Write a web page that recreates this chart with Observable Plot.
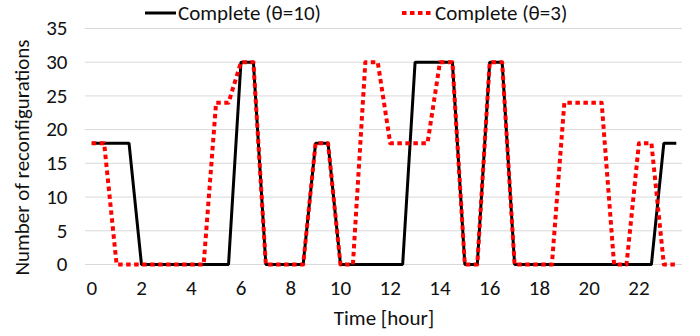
<!DOCTYPE html>
<html>
<head>
<meta charset="utf-8">
<script src="https://cdn.jsdelivr.net/npm/d3@7"></script>
<script src="https://cdn.jsdelivr.net/npm/@observablehq/plot@0.6"></script>
<style>
  html, body { margin: 0; padding: 0; background: #fff; }
  #wrap { position: relative; width: 700px; height: 336px; font-family: Carlito, Lato, sans-serif; }
  #legend { position: absolute; top: 0; left: 0; width: 700px; height: 26px; font-size: 21px; color: #111; }
  .item { position: absolute; top: 0px; display: flex; align-items: center; height: 26px; }
  .item svg { margin-right: 2px; }
</style>
</head>
<body>
<div id="wrap">
  <div id="legend"></div>
  <div id="chart"></div>
</div>
<script>
const hours = [0,0.5,1,1.5,2,2.5,3,3.5,4,4.5,5,5.5,6,6.5,7,7.5,8,8.5,9,9.5,10,10.5,11,11.5,
               12,12.5,13,13.5,14,14.5,15,15.5,16,16.5,17,17.5,18,18.5,19,19.5,20,20.5,21,21.5,22,22.5,23,23.5];
const theta10 = [18,18,18,18,0,0,0,0,0,0,0,0,30,30,0,0,0,0,18,18,0,0,0,0,
                 0,0,30,30,30,30,0,0,30,30,0,0,0,0,0,0,0,0,0,0,0,0,18,18];
const theta3  = [18,18,0,0,0,0,0,0,0,0,24,24,30,30,0,0,0,0,18,18,0,0,30,30,
                 18,18,18,18,30,30,0,0,30,30,0,0,0,0,24,24,24,24,0,0,18,18,0,0];
const seriesNames = ["Complete (\u03b8=10)", "Complete (\u03b8=3)"];
const xTicks = [0,2,4,6,8,10,12,14,16,18,20,22];
const yTicks = [0,5,10,15,20,25,30,35];

const d10 = hours.map((h, i) => ({h, v: theta10[i]}));
const d3s = hours.map((h, i) => ({h, v: theta3[i]}));

const DASH = "4.5,3.5";

const chart = Plot.plot({
  width: 700,
  height: 336,
  marginLeft: 85,
  marginRight: 18,
  marginTop: 28,
  marginBottom: 72,
  style: {fontFamily: "Carlito, Lato, sans-serif", fontSize: "21px", color: "#111", background: "#fff"},
  x: {domain: [-0.25, 23.75], ticks: xTicks, tickSize: 0, label: null},
  y: {domain: [0, 35], ticks: yTicks, tickSize: 0, label: null},
  marks: [
    Plot.ruleY(yTicks, {stroke: "#d9d9d9", strokeWidth: 1}),
    Plot.line(d10, {x: "h", y: "v", stroke: "#000", strokeWidth: 3, strokeLinecap: "butt", strokeLinejoin: "miter"}),
    Plot.line(d3s, {x: "h", y: "v", stroke: "#ff0000", strokeWidth: 4, strokeDasharray: DASH, strokeLinecap: "butt", strokeLinejoin: "round"}),
    Plot.axisX({ticks: xTicks, tickSize: 0, tickPadding: 16, label: "Time [hour]", labelAnchor: "center", labelArrow: "none", labelOffset: 60}),
    Plot.axisY({ticks: yTicks, tickSize: 0, tickPadding: 18, label: "Number of reconfigurations", labelAnchor: "center", labelArrow: "none", labelOffset: 71})
  ]
});
// the reference's y title sits a little below the plot centre
const yl = chart.querySelector('g[aria-label="y-axis label"]');
if (yl) yl.setAttribute("transform", ((yl.getAttribute("transform") || "") + " translate(0,11)").trim());
document.getElementById("chart").appendChild(chart);

// legend
const legend = document.getElementById("legend");
const items = [
  {name: seriesNames[0], left: 145, stroke: "#000", width: 3, dash: null},
  {name: seriesNames[1], left: 402, stroke: "#ff0000", width: 4, dash: DASH}
];
for (const it of items) {
  const div = document.createElement("div");
  div.className = "item";
  div.style.left = it.left + "px";
  const sw = document.createElementNS("http://www.w3.org/2000/svg", "svg");
  sw.setAttribute("width", 31); sw.setAttribute("height", 26);
  const ln = document.createElementNS("http://www.w3.org/2000/svg", "line");
  ln.setAttribute("x1", 0); ln.setAttribute("x2", 31); ln.setAttribute("y1", 13); ln.setAttribute("y2", 13);
  ln.setAttribute("stroke", it.stroke); ln.setAttribute("stroke-width", it.width);
  if (it.dash) ln.setAttribute("stroke-dasharray", it.dash);
  sw.appendChild(ln);
  div.appendChild(sw);
  const t = document.createElement("span");
  t.textContent = it.name;
  div.appendChild(t);
  legend.appendChild(div);
}
</script>
</body>
</html>
